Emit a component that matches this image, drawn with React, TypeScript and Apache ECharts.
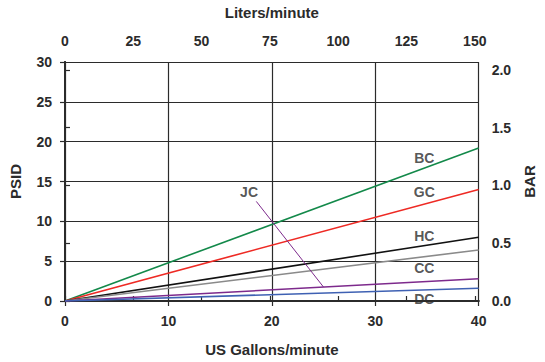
import React, { useEffect, useRef } from "react";
import * as echarts from "echarts";

const gpmTicks = [0, 10, 20, 30, 40];
const lpmTicks = [0, 25, 50, 75, 100, 125, 150];
const psiTicks = [0, 5, 10, 15, 20, 25, 30];
const barTicks = [0, 0.5, 1.0, 1.5, 2.0];

const seriesNames = ["BC", "GC", "HC", "CC", "JC", "DC"];
const flowGpm = [0, 40];
const bcPsi = [0, 19.2];
const gcPsi = [0, 14.0];
const hcPsi = [0, 8.0];
const ccPsi = [0, 6.4];
const jcPsi = [0, 2.8];
const dcPsi = [0, 1.6];
const seriesColors = ["#13894a", "#ee2a24", "#111111", "#8a8a8a", "#7d2a8c", "#3f61b3"];

// label anchor points (gpm, psi)
const labelGpm = [34.75, 34.75, 34.75, 34.75, 17.8, 34.75];
const labelPsi = [18.0, 13.7, 8.1, 4.2, 13.7, 0.2];
// JC leader line (gpm, psi)
const jcLeaderGpm = [18.5, 25];
const jcLeaderPsi = [12.5, 1.75];

const LPM_PER_GPM = 3.78541;
const PSI_PER_BAR = 14.5038;

export default function App() {
  const ref = useRef<HTMLDivElement>(null);
  useEffect(() => {
    if (!ref.current) return;
    document.body.style.margin = "0";
    document.body.style.overflow = "hidden";
    document.documentElement.style.overflow = "hidden";
    const chart = echarts.init(ref.current, undefined, { renderer: "svg" });
    const font = "'Liberation Sans', Arial, sans-serif";
    const txt = "#2b2b2b";
    const axisLine = { show: true, lineStyle: { color: "#2b2b2b", width: 2 } };
    const tick = { show: true, length: 5, lineStyle: { color: "#2b2b2b", width: 1.2 } };
    const lbl = { color: txt, fontFamily: font, fontWeight: "bold" as const, fontSize: 14 };
    const nameStyle = { color: txt, fontFamily: font, fontWeight: "bold" as const, fontSize: 15 };
    const psiSets = [bcPsi, gcPsi, hcPsi, ccPsi, jcPsi, dcPsi];

    const series: any[] = seriesNames.map((n, i) => ({
      name: n,
      type: "line",
      xAxisIndex: 0,
      yAxisIndex: 0,
      data: flowGpm.map((x, k) => [x, psiSets[i][k]]),
      showSymbol: false,
      symbol: "none",
      lineStyle: { color: seriesColors[i], width: 1.6 },
      z: 3,
    }));
    series.push({
      name: "JC leader",
      type: "line",
      data: jcLeaderGpm.map((x, k) => [x, jcLeaderPsi[k]]),
      symbol: "none",
      lineStyle: { color: seriesColors[4], width: 1 },
      z: 3,
    });
    series.push({
      name: "labels",
      type: "scatter",
      symbolSize: 0,
      data: seriesNames.map((n, i) => ({ value: [labelGpm[i], labelPsi[i]], name: n })),
      label: {
        show: true,
        position: "inside",
        formatter: (p: any) => p.name,
        color: txt,
        fontFamily: font,
        fontWeight: "bold",
        fontSize: 14,
      },
      z: 5,
    });

    chart.setOption({
      animation: false,
      grid: { left: 62, right: 56, top: 62, bottom: 61, containLabel: false },
      xAxis: [
        {
          type: "value",
          position: "bottom",
          min: gpmTicks[0],
          max: gpmTicks[gpmTicks.length - 1],
          interval: 10,
          name: "US Gallons/minute",
          nameLocation: "middle",
          nameGap: 41,
          nameTextStyle: nameStyle,
          axisLine,
          axisTick: tick,
          axisLabel: { ...lbl, margin: 13 },
          splitLine: { show: true, lineStyle: { color: "#2b2b2b", width: 1.2 } },
        },
        {
          type: "value",
          position: "top",
          min: 0,
          max: gpmTicks[gpmTicks.length - 1] * LPM_PER_GPM,
          name: "Liters/minute",
          nameLocation: "middle",
          nameGap: 42,
          nameTextStyle: nameStyle,
          axisLine,
          axisTick: { ...tick, customValues: lpmTicks },
          axisLabel: { ...lbl, margin: 14, customValues: lpmTicks },
          splitLine: { show: false },
        },
      ],
      yAxis: [
        {
          type: "value",
          position: "left",
          min: psiTicks[0],
          max: psiTicks[psiTicks.length - 1],
          interval: 5,
          name: "PSID",
          nameLocation: "middle",
          nameGap: 42,
          nameRotate: 90,
          nameTextStyle: nameStyle,
          axisLine,
          axisTick: tick,
          axisLabel: { ...lbl, margin: 13 },
          splitLine: { show: true, lineStyle: { color: "#2b2b2b", width: 1.2 } },
        },
        {
          type: "value",
          position: "right",
          min: 0,
          max: psiTicks[psiTicks.length - 1] / PSI_PER_BAR,
          name: "BAR",
          nameLocation: "middle",
          nameGap: 42,
          nameRotate: 90,
          nameTextStyle: nameStyle,
          axisLine,
          axisTick: { ...tick, customValues: barTicks },
          axisLabel: {
            ...lbl,
            margin: 13,
            customValues: barTicks,
            formatter: (v: number) => v.toFixed(1),
          },
          splitLine: { show: false },
        },
      ],
      series,
    });
    return () => chart.dispose();
  }, []);
  return <div ref={ref} style={{ width: "100vw", height: "100vh", position: "absolute", left: 0, top: 0 }} />;
}
